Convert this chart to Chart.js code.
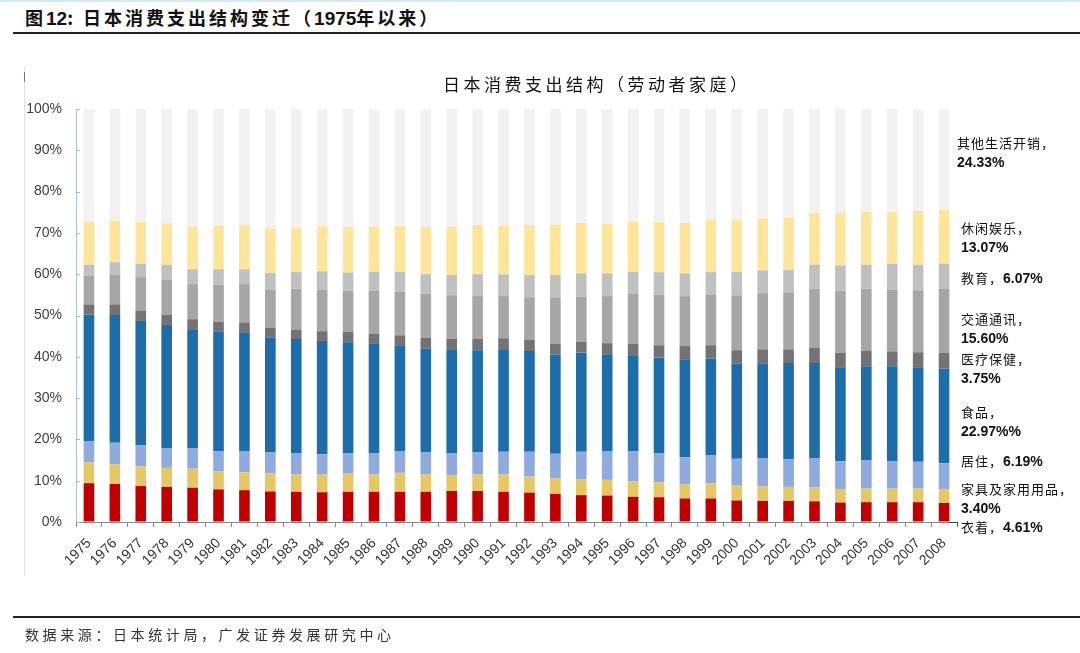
<!DOCTYPE html>
<html>
<head>
<meta charset="utf-8">
<script src="https://cdn.jsdelivr.net/npm/chart.js@4.4.1/dist/chart.umd.min.js"></script>
<style>
  html, body { margin: 0; padding: 0; background: #fff; }
  #wrap { position: relative; width: 1080px; height: 653px; overflow: hidden; background: #fff; }
  #c { position: absolute; left: 0; top: 0; }
  .abs { position: absolute; white-space: nowrap; }
  .cjk { font-family: "Noto Sans CJK SC", sans-serif; }
  .num { font-family: "Liberation Sans", Arial, sans-serif; font-weight: bold; }
  .lab { font-size: 13px; color: #111; line-height: 19px; }
  .lab .cjk { letter-spacing: 1px; }
  .lab .num { font-size: 14px; }
</style>
</head>
<body>
<div id="wrap">
  <div class="abs" style="left:0;top:0;width:1080px;height:2px;background:#cfeaf8;"></div>
  <div class="abs cjk" style="left:25px;top:4px;font-size:18px;font-weight:bold;color:#111;letter-spacing:3px;">图<span class="num" style="font-size:19px;letter-spacing:0">12</span>:&nbsp;日本消费支出结构变迁（<span class="num" style="font-size:19px;letter-spacing:0">1975</span>年以来）</div>
  <div class="abs" style="left:13px;top:32px;width:1067px;height:2px;background:#222;"></div>
  <div class="abs" style="left:24px;top:66px;width:1px;height:510px;background:#e2e2e2;"></div>
  <div class="abs" style="left:24px;top:72px;width:1px;height:10px;background:#6a7a90;"></div>
  <canvas id="c" width="1080" height="653"></canvas>
  <div class="abs cjk" id="ctitle" style="left:443px;top:71px;font-size:17px;color:#111;letter-spacing:3.5px;">日本消费支出结构（劳动者家庭）</div>

  <div class="abs lab" style="left:957px;top:133px;"><span class="cjk">其他生活开销，</span><br><span class="num">24.33%</span></div>
  <div class="abs lab" style="left:961px;top:218px;"><span class="cjk">休闲娱乐，</span><br><span class="num">13.07%</span></div>
  <div class="abs lab" style="left:961px;top:268px;"><span class="cjk">教育，</span><span class="num">6.07%</span></div>
  <div class="abs lab" style="left:961px;top:309px;"><span class="cjk">交通通讯，</span><br><span class="num">15.60%</span></div>
  <div class="abs lab" style="left:961px;top:349px;"><span class="cjk">医疗保健，</span><br><span class="num">3.75%</span></div>
  <div class="abs lab" style="left:961px;top:402px;"><span class="cjk">食品，</span><br><span class="num">22.97%%</span></div>
  <div class="abs lab" style="left:961px;top:451px;"><span class="cjk">居住，</span><span class="num">6.19%</span></div>
  <div class="abs lab" style="left:961px;top:479px;"><span class="cjk">家具及家用用品，</span><br><span class="num">3.40%</span></div>
  <div class="abs lab" style="left:961px;top:517px;"><span class="cjk">衣着，</span><span class="num">4.61%</span></div>
  <div class="abs" style="left:949px;top:522px;width:9px;height:1px;background:#444;"></div>
  <div class="abs" style="left:957px;top:522px;width:1px;height:4px;background:#444;"></div>

  <div class="abs" style="left:13px;top:616px;width:1067px;height:2px;background:#222;"></div>
  <div class="abs cjk" style="left:25px;top:624px;font-size:14px;color:#333;letter-spacing:3.6px;">数据来源：日本统计局，广发证券发展研究中心</div>
</div>
<script>
const years = ['1975','1976','1977','1978','1979','1980','1981','1982','1983','1984','1985','1986','1987','1988','1989','1990','1991','1992','1993','1994','1995','1996','1997','1998','1999','2000','2001','2002','2003','2004','2005','2006','2007','2008'];

const clothing  = [9.4,9.2,8.7,8.5,8.3,7.9,7.7,7.4,7.3,7.2,7.3,7.3,7.3,7.3,7.5,7.5,7.3,7.1,6.8,6.5,6.4,6.1,6.0,5.7,5.7,5.2,5.1,5.1,5.0,4.7,4.8,4.8,4.8,4.61];
const furniture = [5.0,4.8,4.8,4.6,4.6,4.4,4.3,4.4,4.2,4.3,4.4,4.2,4.6,4.2,3.9,4.0,4.2,3.9,3.8,3.9,3.8,3.8,3.6,3.4,3.7,3.6,3.5,3.4,3.4,3.3,3.3,3.3,3.3,3.40];
const housing   = [5.2,5.2,5.0,4.8,4.9,4.9,5.2,5.0,5.1,4.9,5.0,5.1,5.3,5.3,5.2,5.3,5.5,6.0,5.9,6.6,7.0,7.3,7.0,6.6,6.7,6.5,6.9,6.7,7.1,6.7,6.8,6.7,6.5,6.19];
const food      = [30.6,30.9,30.2,29.8,28.7,28.9,28.6,27.8,27.7,27.4,26.8,26.7,25.6,25.2,25.2,24.8,24.8,24.4,24.0,24.0,23.4,23.0,23.2,23.7,23.5,23.0,22.8,23.3,23.0,22.6,22.8,22.9,22.7,22.97];
const medical   = [2.5,2.6,2.5,2.5,2.6,2.4,2.5,2.5,2.3,2.4,2.5,2.3,2.4,2.6,2.6,2.8,2.7,2.7,2.7,2.6,2.7,2.9,3.0,3.2,3.2,3.3,3.5,3.3,3.7,3.7,3.8,3.6,3.8,3.75];
const transport = [6.9,7.1,8.1,8.5,8.5,8.9,9.3,9.2,9.9,10.1,10.0,10.4,10.6,10.6,10.5,10.3,10.2,10.3,11.2,11.0,11.4,12.1,12.2,12.1,12.3,13.3,13.6,13.8,14.3,14.9,15.0,15.0,15.0,15.60];
const education = [2.7,3.1,3.2,3.6,3.6,3.8,3.6,4.0,4.0,4.4,4.4,4.6,4.8,4.8,4.9,5.3,5.3,5.4,5.4,5.6,5.5,5.4,5.5,5.5,5.4,5.7,5.5,5.4,5.8,6.2,5.8,6.2,6.2,6.07];
const leisure   = [10.4,10.1,10.1,10.0,10.3,10.6,10.7,10.8,10.8,10.9,11.0,11.0,11.0,11.4,11.7,11.9,11.8,12.1,12.2,12.2,12.0,12.1,12.1,12.2,12.8,12.5,12.6,12.7,12.5,12.8,12.8,12.6,13.0,13.07];
const other     = [27.3,27.0,27.4,27.7,28.5,28.2,28.1,28.9,28.7,28.4,28.6,28.4,28.4,28.6,28.5,28.1,28.2,28.1,28.0,27.6,27.8,27.3,27.4,27.6,26.7,26.9,26.5,26.3,25.2,25.1,24.9,24.9,24.7,24.33];

const seriesNames = ['衣着','家具及家用用品','居住','食品','医疗保健','交通通讯','教育','休闲娱乐','其他生活开销'];
const seriesData = [clothing, furniture, housing, food, medical, transport, education, leisure, other];
const seriesColors = ['#C00000','#E5C763','#8FAADC','#1C6DAA','#737373','#A6A6A6','#C0C0C0','#FFE599','#F2F2F2'];
const yTicks = [0,10,20,30,40,50,60,70,80,90,100];

const innerTicks = {
  id: 'innerTicks',
  afterDraw(chart) {
    const y = chart.scales.y, ctx = chart.ctx;
    ctx.save();
    ctx.strokeStyle = '#9DB8E4';
    ctx.lineWidth = 1;
    yTicks.forEach(v => {
      const py = Math.round(y.getPixelForValue(v)) + 0.5;
      ctx.beginPath();
      ctx.moveTo(y.right, py);
      ctx.lineTo(y.right + 4, py);
      ctx.stroke();
    });
    ctx.restore();
  }
};

new Chart(document.getElementById('c'), {
  type: 'bar',
  data: {
    labels: years,
    datasets: seriesNames.map((n, i) => ({
      label: n,
      data: seriesData[i],
      backgroundColor: seriesColors[i],
      borderWidth: 0,
      categoryPercentage: 1,
      barPercentage: 0.41
    }))
  },
  options: {
    responsive: false,
    animation: false,
    layout: { padding: { top: 109, right: 123, left: 0, bottom: 0 } },
    plugins: { legend: { display: false }, tooltip: { enabled: false }, title: { display: false } },
    scales: {
      x: {
        stacked: true,
        afterFit(s) { s.height = 131; },
        grid: { display: true, drawOnChartArea: false, drawTicks: true, tickLength: 5, color: '#8a8a8a', offset: true },
        border: { display: true, color: '#8a8a8a', width: 1 },
        ticks: {
          minRotation: 45, maxRotation: 45, autoSkip: false, padding: 8,
          color: '#333', font: { family: 'Liberation Sans, Arial, sans-serif', size: 14 }
        }
      },
      y: {
        stacked: true,
        min: 0, max: 100,
        afterFit(s) { s.width = 76; },
        afterBuildTicks(s) { s.ticks = yTicks.map(v => ({ value: v })); },
        grid: { display: true, drawOnChartArea: false, drawTicks: false },
        border: { display: true, color: '#A9C4EB', width: 1 },
        ticks: {
          padding: 14,
          color: '#404040',
          font: { family: 'Liberation Sans, Arial, sans-serif', size: 14 },
          callback: v => v + '%'
        }
      }
    }
  },
  plugins: [innerTicks]
});
</script>
</body>
</html>
